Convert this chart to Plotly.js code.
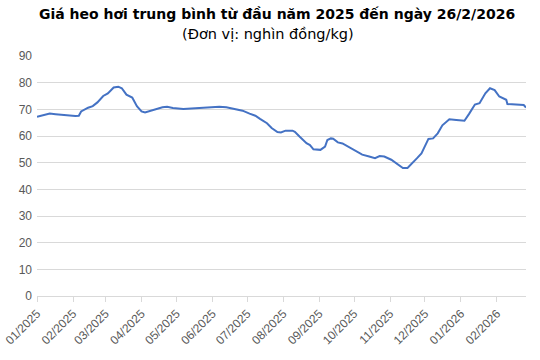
<!DOCTYPE html>
<html>
<head>
<meta charset="utf-8">
<script src="https://cdn.plot.ly/plotly-3.0.1.min.js"></script>
<style>html,body{margin:0;padding:0;background:#fff;}#chart{width:540px;height:360px;}</style>
</head>
<body>
<div id="chart"></div>
<script>
const dates = [
"2025-01-01","2025-01-06","2025-01-12","2025-01-17","2025-01-23","2025-01-29","2025-02-03","2025-02-06","2025-02-08","2025-02-14",
"2025-02-18","2025-02-22","2025-02-27","2025-03-03","2025-03-05","2025-03-08","2025-03-12","2025-03-15","2025-03-19","2025-03-24",
"2025-03-28","2025-04-01","2025-04-04","2025-04-11","2025-04-19","2025-04-23","2025-04-28","2025-05-07","2025-05-13","2025-05-21",
"2025-05-30","2025-06-07","2025-06-13","2025-06-19","2025-06-27","2025-07-03","2025-07-08","2025-07-12","2025-07-18","2025-07-22",
"2025-07-27","2025-07-30","2025-08-03","2025-08-09","2025-08-11","2025-08-15","2025-08-21","2025-08-24","2025-08-27","2025-09-02",
"2025-09-06","2025-09-08","2025-09-11","2025-09-13","2025-09-17","2025-09-21","2025-09-27","2025-10-03","2025-10-08","2025-10-14",
"2025-10-19","2025-10-23","2025-10-27","2025-11-02","2025-11-07","2025-11-12","2025-11-16","2025-11-20","2025-11-24","2025-11-28",
"2025-12-01","2025-12-04","2025-12-08","2025-12-12","2025-12-16","2025-12-22","2025-12-28","2026-01-04","2026-01-08","2026-01-13",
"2026-01-17","2026-01-22","2026-01-26","2026-01-30","2026-02-03","2026-02-09","2026-02-10","2026-02-20","2026-02-24","2026-02-26"
];
const prices = [
67.2,67.8,68.4,68.2,67.9,67.6,67.5,67.6,69.2,70.6,
71.2,72.6,75.0,76.0,76.8,78.2,78.5,77.9,75.5,74.4,
71.2,69.2,68.8,69.8,70.8,71.0,70.5,70.1,70.3,70.5,
70.8,71.0,70.8,70.2,69.5,68.4,67.6,66.4,64.8,63.0,
61.5,61.3,62.0,62.0,61.6,59.8,57.3,56.6,55.0,54.8,
56.0,58.5,59.1,59.0,57.6,57.2,55.7,54.5,53.0,52.3,
51.7,52.5,52.3,51.1,49.5,48.0,48.0,50.0,51.6,53.5,
56.5,58.9,59.1,61.0,64.0,66.3,66.0,65.7,68.3,71.8,
72.3,76.0,77.9,77.2,74.8,73.6,72.0,71.9,71.6,70.7
];
const tickDates = ["2025-01-01","2025-02-01","2025-03-01","2025-04-01","2025-05-01","2025-06-01","2025-07-01","2025-08-01","2025-09-01","2025-10-01","2025-11-01","2025-12-01","2026-01-01","2026-02-01"];
const tickLabels = ["01/2025","02/2025","03/2025","04/2025","05/2025","06/2025","07/2025","08/2025","09/2025","10/2025","11/2025","12/2025","01/2026","02/2026"];
const titleText = "Giá heo hơi trung bình từ đầu năm 2025 đến ngày 26/2/2026";
const subtitleText = "(Đơn vị: nghìn đồng/kg)";

const trace = {
  x: dates, y: prices, type: 'scatter', mode: 'lines',
  line: {color: '#4472C4', width: 2, shape: 'linear'},
  hoverinfo: 'x+y'
};
const layout = {
  width: 540, height: 360,
  margin: {l: 37, r: 14, t: 56, b: 64},
  paper_bgcolor: '#ffffff', plot_bgcolor: '#ffffff',
  showlegend: false,
  title: {
    text: '<b>' + titleText + '</b>',
    x: 0.513, xanchor: 'center', xref: 'container',
    y: 0.962, yanchor: 'middle', yref: 'container',
    font: {family: 'DejaVu Sans, Verdana, sans-serif', size: 14, color: '#000000'}
  },
  annotations: [{
    text: subtitleText, xref: 'paper', yref: 'paper',
    x: 0.472, y: 1.092, xanchor: 'center', yanchor: 'middle', showarrow: false,
    font: {family: 'DejaVu Sans, Verdana, sans-serif', size: 14.5, color: '#000000'}
  }],
  xaxis: {
    type: 'date',
    range: ['2025-01-01', '2026-02-26'],
    tickmode: 'array', tickvals: tickDates, ticktext: tickLabels,
    tickangle: -45,
    ticks: 'outside', ticklen: 5, tickcolor: '#d9d9d9', tickwidth: 1,
    showline: true, linecolor: '#d9d9d9', linewidth: 1,
    showgrid: false, zeroline: false,
    tickfont: {family: 'Liberation Sans, Arial, sans-serif', size: 12, color: '#595959'}
  },
  yaxis: {
    range: [0, 90], dtick: 10, tick0: 0,
    showgrid: true, gridcolor: '#d9d9d9', gridwidth: 1,
    zeroline: false, showline: false, ticks: '',
    ticklabelstandoff: 4,
    tickfont: {family: 'Liberation Sans, Arial, sans-serif', size: 12, color: '#595959'}
  }
};
Plotly.newPlot('chart', [trace], layout, {staticPlot: true, displayModeBar: false});
</script>
</body>
</html>
